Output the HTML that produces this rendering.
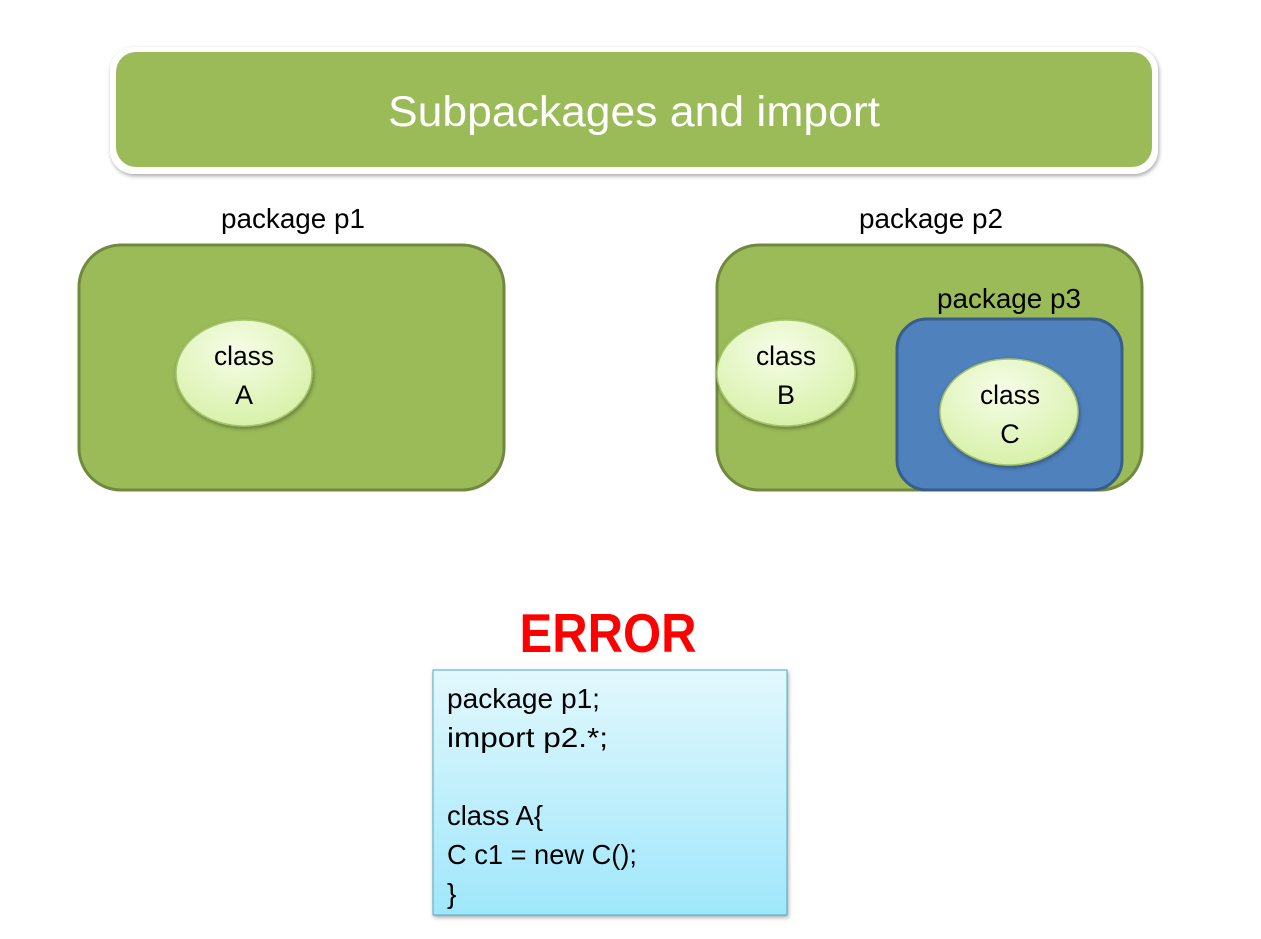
<!DOCTYPE html>
<html><head><meta charset="utf-8"><style>
html,body{margin:0;padding:0;background:#fff;}
svg{display:block;}
text{font-family:"Liberation Sans",sans-serif;}
</style></head><body>
<svg width="1261" height="939" viewBox="0 0 1261 939" xmlns="http://www.w3.org/2000/svg">
<defs>
<radialGradient id="eg" cx="0.45" cy="0.3" r="0.75">
<stop offset="0" stop-color="#f6fde8"/><stop offset="1" stop-color="#d5f0a4"/>
</radialGradient>
<linearGradient id="cg" x1="0" y1="0" x2="0" y2="1">
<stop offset="0" stop-color="#e2f8fd"/><stop offset="1" stop-color="#9fe7fb"/>
</linearGradient>
<filter id="sh" x="-10%" y="-10%" width="120%" height="130%"><feDropShadow dx="1" dy="2" stdDeviation="2" flood-color="#000" flood-opacity="0.35"/></filter>
</defs>
<rect x="110" y="47" width="1048" height="127" rx="24" fill="#fff" filter="url(#sh)"/>
<rect x="116" y="52" width="1036" height="115" rx="20" fill="#9bbb59"/>
<text x="634" y="126" font-size="43" fill="#fff" text-anchor="middle" textLength="492" lengthAdjust="spacingAndGlyphs">Subpackages and import</text>
<text x="221" y="228" font-size="28" textLength="144" lengthAdjust="spacingAndGlyphs">package p1</text>
<text x="859" y="228" font-size="28" textLength="144" lengthAdjust="spacingAndGlyphs">package p2</text>
<rect x="79" y="245" width="425" height="245" rx="42" fill="#9bbb59" stroke="#71893f" stroke-width="3"/>
<ellipse cx="244" cy="373" rx="68" ry="53" fill="url(#eg)" stroke="#a6c46a" stroke-width="1.5" filter="url(#sh)"/>
<text x="244" y="365" font-size="27" text-anchor="middle" textLength="60" lengthAdjust="spacingAndGlyphs">class</text>
<text x="244" y="404" font-size="27" text-anchor="middle">A</text>
<rect x="717" y="245" width="425" height="245" rx="42" fill="#9bbb59" stroke="#71893f" stroke-width="3"/>
<text x="937" y="308" font-size="28" textLength="144" lengthAdjust="spacingAndGlyphs">package p3</text>
<ellipse cx="786" cy="373" rx="69" ry="53" fill="url(#eg)" stroke="#a6c46a" stroke-width="1.5" filter="url(#sh)"/>
<text x="786" y="365" font-size="27" text-anchor="middle" textLength="60" lengthAdjust="spacingAndGlyphs">class</text>
<text x="786" y="404" font-size="27" text-anchor="middle">B</text>
<rect x="897" y="319" width="225" height="171" rx="30" fill="#4f81bd" stroke="#385d8a" stroke-width="3"/>
<ellipse cx="1009" cy="412" rx="69" ry="53" fill="url(#eg)" stroke="#a6c46a" stroke-width="1.5" filter="url(#sh)"/>
<text x="1010" y="404" font-size="27" text-anchor="middle" textLength="60" lengthAdjust="spacingAndGlyphs">class</text>
<text x="1010" y="443" font-size="27" text-anchor="middle">C</text>
<text x="608" y="652" font-size="55" font-weight="bold" fill="#ff0000" text-anchor="middle" textLength="177" lengthAdjust="spacingAndGlyphs">ERROR</text>
<rect x="433" y="670" width="354" height="245" fill="url(#cg)" stroke="#4bacc6" stroke-width="1" filter="url(#sh)"/>
<text x="447" y="708" font-size="28" textLength="153" lengthAdjust="spacingAndGlyphs">package p1;</text>
<text x="447" y="747" font-size="28" textLength="161" lengthAdjust="spacingAndGlyphs">import p2.*;</text>
<text x="447" y="825" font-size="28" textLength="96" lengthAdjust="spacingAndGlyphs">class A{</text>
<text x="447" y="864" font-size="28" textLength="190" lengthAdjust="spacingAndGlyphs">C c1 = new C();</text>
<text x="447" y="903" font-size="28">}</text>
</svg>
</body></html>
